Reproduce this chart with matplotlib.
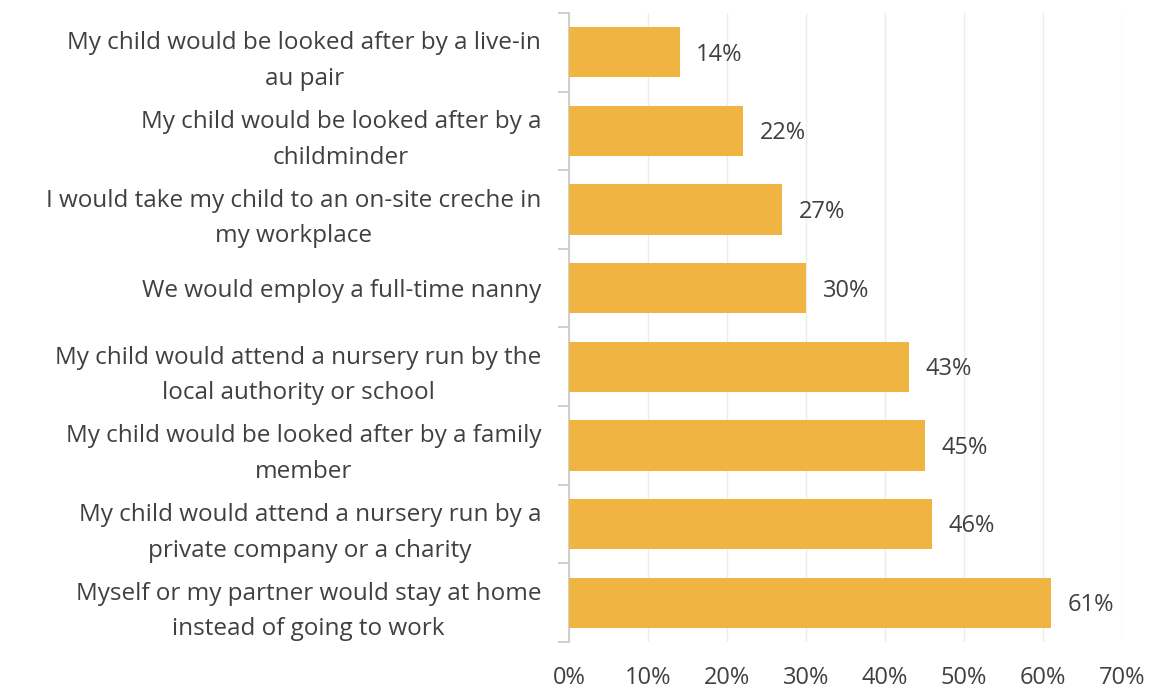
import matplotlib
matplotlib.use("Agg")
import matplotlib.pyplot as plt
from matplotlib.ticker import FixedLocator, PercentFormatter

categories = [
    "My child would be looked after by a live-in\nau pair",
    "My child would be looked after by a\nchildminder",
    "I would take my child to an on-site creche in\nmy workplace",
    "We would employ a full-time nanny",
    "My child would attend a nursery run by the\nlocal authority or school",
    "My child would be looked after by a family\nmember",
    "My child would attend a nursery run by a\nprivate company or a charity",
    "Myself or my partner would stay at home\ninstead of going to work",
]
values = [14, 22, 27, 30, 43, 45, 46, 61]
x_ticks = [0, 10, 20, 30, 40, 50, 60, 70]

bar_color = "#F0B443"
text_color = "#404040"
font = ["Open Sans", "DejaVu Sans"]

fig = plt.figure(figsize=(11.56, 6.9), dpi=100)
ax = fig.add_axes([0.4922, 0.0696, 0.4784, 0.9116])

n = len(categories)
pos = list(range(n))
ax.barh(pos, values, height=0.64, color=bar_color, zorder=3)

ax.set_xlim(0, 70)
ax.set_ylim(n - 0.5, -0.5)

for y, v in zip(pos, values):
    ax.text(v + 2.1, y + 0.03, f"{v}%", va="center", ha="left",
            fontsize=17, color=text_color, family=font)

ax.set_xticks(x_ticks)
ax.xaxis.set_major_formatter(PercentFormatter(decimals=0))
ax.tick_params(axis="x", length=0, pad=17, labelsize=17, labelcolor=text_color)
ax.grid(axis="x", color="#ececec", linewidth=1, zorder=0)

ax.set_yticks(pos)
ax.set_yticklabels(categories, fontsize=17.5, color=text_color,
                   family=font, linespacing=1.65, ha="right",
                   multialignment="center")
ax.yaxis.set_minor_locator(FixedLocator([i - 0.5 for i in range(n + 1)]))
ax.tick_params(axis="y", which="major", length=0, pad=20)
ax.tick_params(axis="y", which="minor", length=8, color="#cccccc", width=1.3)

for lbl in ax.get_xticklabels():
    lbl.set_family(font)

for side in ("top", "right", "bottom"):
    ax.spines[side].set_visible(False)
ax.spines["left"].set_color("#cccccc")
ax.spines["left"].set_linewidth(1.3)

fig.savefig("out.png", dpi=100, facecolor="white")
